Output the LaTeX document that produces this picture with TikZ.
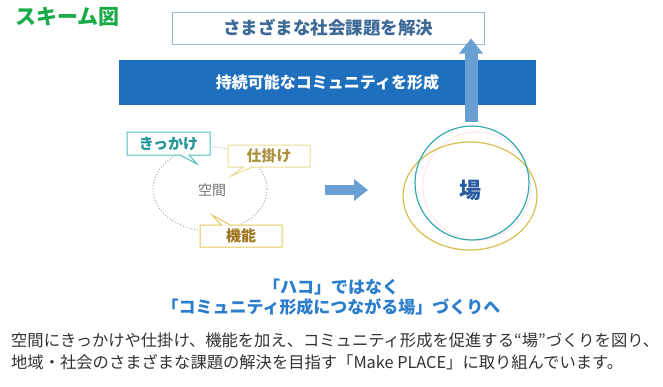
\documentclass[tikz,border=0pt]{standalone}
\usepackage{fontspec}
\setmainfont{Noto Sans CJK JP}
\usetikzlibrary{shapes.callouts,arrows.meta}

\definecolor{titlegreen}{RGB}{26,170,72}
\definecolor{goalline}{RGB}{165,185,205}
\definecolor{goaltext}{RGB}{60,105,150}
\definecolor{bandblue}{RGB}{31,111,191}
\definecolor{arrowblue}{RGB}{106,159,212}
\definecolor{tealline}{RGB}{80,190,190}
\definecolor{tealtext}{RGB}{35,150,150}
\definecolor{paleline}{RGB}{232,222,150}
\definecolor{paletext}{RGB}{170,145,60}
\definecolor{goldline}{RGB}{228,200,90}
\definecolor{goldtext}{RGB}{160,118,30}
\definecolor{ringteal}{RGB}{50,170,175}
\definecolor{ringgold}{RGB}{212,190,80}
\definecolor{batext}{RGB}{40,90,160}
\definecolor{headblue}{RGB}{45,125,205}
\definecolor{bodytext}{RGB}{50,50,50}

\begin{document}
\begin{tikzpicture}[x=1pt,y=-1pt,
  tag/.style={rectangle callout, draw, fill=white, line width=1pt,
    minimum width=82pt, minimum height=22pt, inner sep=0pt,
    callout pointer width=9pt, font=\fontsize{15}{15}\selectfont\bfseries},
  fatarrow/.style={draw=arrowblue, line width=#1},
  ring/.style={line width=1.2pt},
  body/.style={anchor=west, text=bodytext, inner sep=0pt, font=\fontsize{16.3}{16.3}\selectfont}]
  \useasboundingbox (0,0) rectangle (663,386);

  \node[anchor=west, text=titlegreen, font=\fontsize{21}{21}\selectfont\bfseries] (title) at (12,17) {スキーム図};

  \node[draw=goalline, line width=1pt, fill=white, minimum width=312pt, minimum height=32pt,
    text=goaltext, font=\fontsize{17.5}{17.5}\selectfont\bfseries] (goal) at (328,28) {さまざまな社会課題を解決};
  \node[fill=bandblue, minimum width=417pt, minimum height=45pt, text=white,
    font=\fontsize{16}{16}\selectfont\bfseries] (band) at (327.5,82.5) {持続可能なコミュニティを形成};

  % left: space with its three ingredients
  \draw[gray!70, line width=1pt, dotted] (210,189) ellipse (57 and 42);
  \node[text=gray!90!black, font=\fontsize{14}{14}\selectfont] (kukan) at (212,190) {空間};
  \node[tag, draw=tealline, text=tealtext, minimum width=83pt, minimum height=23pt,
    callout absolute pointer={(197,164)}] (kikkake) at (168.5,143.5) {きっかけ};
  \node[tag, draw=paleline, text=paletext, callout absolute pointer={(231,176)}] (shikake) at (269,156) {仕掛け};
  \node[tag, draw=goldline, text=goldtext, callout absolute pointer={(212,215)}] (kinou) at (241,236) {機能};

  % right: the place
  \draw[ring, draw=pink!35] (477,186) circle (54);
  \draw[ring, draw=ringgold] (470,196) ellipse (67 and 54);
  \draw[ring, draw=ringteal] (472,183) circle (57);
  \node[text=batext, font=\fontsize{22}{22}\selectfont\bfseries] (ba) at (470,190) {場};

  \coordinate (pushL) at (325,190);
  \coordinate (pushR) at (368,190);
  \draw[fatarrow=10pt, -{Triangle[length=14pt,width=21pt]}] (pushL) -- (pushR);
  \coordinate (riseB) at (471,122);
  \draw[fatarrow=13pt, -{Triangle[length=15pt,width=23pt]}] (riseB) -- ([yshift=6pt]goal.south -| riseB);

  \node[text=headblue, align=center, font=\fontsize{17}{20}\selectfont\bfseries] (head) at (331,297)
    {「ハコ」ではなく\\「コミュニティ形成につながる場」づくりへ};

  \node[body] (line1) at (11,340)
    {空間にきっかけや仕掛け、機能を加え、コミュニティ形成を促進する“場”づくりを図り、};
  \node[body] (line2) at (11,362)
    {地域・社会のさまざまな課題の解決を目指す「Make PLACE」に取り組んでいます。};
\end{tikzpicture}
\end{document}
